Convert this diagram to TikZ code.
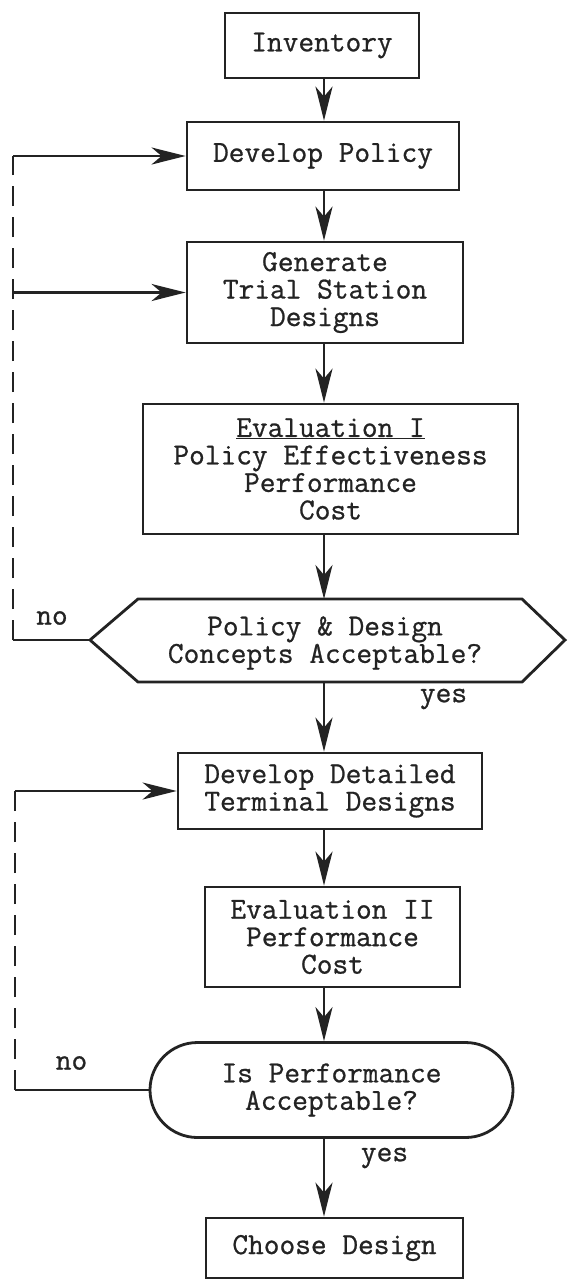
\documentclass[tikz,border=0pt]{standalone}
\usepackage{fontspec}
\newfontfamily\cour{Latin Modern Mono}[FakeBold=0.8]
\usetikzlibrary{arrows.meta,shapes.misc,calc}
\definecolor{ink}{RGB}{35,35,35}
\begin{document}
\begin{tikzpicture}[x=1pt,y=-1pt,
  every node/.style={font=\cour\fontsize{30.5}{27.5}\selectfont, inner sep=0pt, align=center, text=ink},
  box/.style={draw=ink, line width=2.8pt, rectangle},
  ln/.style={draw=ink, line width=2.8pt},
  arr/.style={draw=ink, line width=2.8pt, -{Stealth[length=34pt,width=17pt,inset=10pt]}},
  dsh/.style={draw=ink, line width=2.8pt, dash pattern=on 20pt off 11pt}]
\fill[white] (0,0) rectangle (568,1283);
\useasboundingbox (0,0) rectangle (568,1283);

\coordinate (cx) at (324,0);
\coordinate (L) at (13,0);
\coordinate (L2) at (15,0);

\node[box, minimum width=194pt, minimum height=65pt] (inv) at (322,45.5) {Inventory};
\node[box, minimum width=272pt, minimum height=68pt] (dp) at (323,156) {Develop Policy};
\node[box, minimum width=276pt, minimum height=101pt] (gen) at (325,292.5) {Generate\\Trial Station\\Designs};
\node[box, minimum width=375pt, minimum height=130pt] (ev1) at (330.5,469) {\underline{Evaluation I}\\Policy Effectiveness\\Performance\\Cost};

% hexagon decision
\coordinate (hW) at (90,640);
\coordinate (hNW) at (138,599);
\coordinate (hNE) at (522,599);
\coordinate (hE) at (565,640);
\coordinate (hSE) at (522,682);
\coordinate (hSW) at (138,682);
\draw[ln, line join=miter] (hW) -- (hNW) -- (hNE) -- (hE) -- (hSE) -- (hSW) -- cycle;
\node (hex) at (325,643) {Policy \& Design\\Concepts Acceptable?};

\node[box, minimum width=304pt, minimum height=76pt] (ddt) at (330,791) {Develop Detailed\\Terminal Designs};
\node[box, minimum width=255pt, minimum height=100pt] (ev2) at (332.5,937) {Evaluation II\\Performance\\Cost};
\node[draw=ink, line width=2.8pt, rounded rectangle, minimum width=363pt, minimum height=95pt] (rnd) at (331.5,1090) {Is Performance\\Acceptable?};
\node[box, minimum width=257pt, minimum height=60pt] (cd) at (334.5,1248) {Choose Design};

% main flow
\draw[arr] (inv.south -| cx) -- (dp.north -| cx);
\draw[arr] (dp.south -| cx) -- (gen.north -| cx);
\draw[arr] (gen.south -| cx) -- (ev1.north -| cx);
\draw[arr] (ev1.south -| cx) -- (hNW -| cx);
\draw[arr] (hSW -| cx) -- (ddt.north -| cx);
\draw[arr] (ddt.south -| cx) -- (ev2.north -| cx);
\draw[arr] (ev2.south -| cx) -- (rnd.north -| cx);
\draw[arr] (rnd.south -| cx) -- (cd.north -| cx);

% upper feedback
\draw[ln] (hW) -- (hW -| L);
\draw[dsh] (hW -| L) -- (dp.west -| L);
\draw[arr] (dp.west -| L) -- (dp.west);
\draw[arr] (gen.west -| L) -- (gen.west);

% lower feedback
\draw[ln] (rnd.west) -- (rnd.west -| L2);
\draw[dsh] (rnd.west -| L2) -- (ddt.west -| L2);
\draw[arr] (ddt.west -| L2) -- (ddt.west);

% labels
\node (no1) at (52,618) {no};
\node (yes1) at (443.5,699) {yes};
\node (no2) at (71.5,1063) {no};
\node (yes2) at (384.5,1158) {yes};
\end{tikzpicture}
\end{document}
